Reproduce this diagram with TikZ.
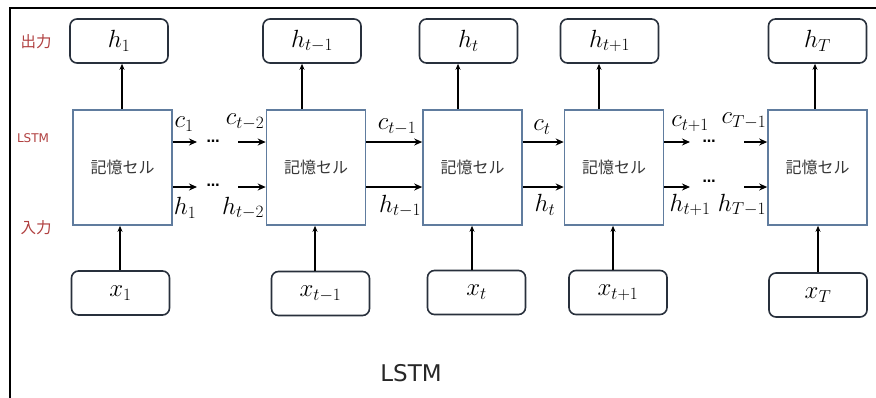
\documentclass[tikz,border=0pt]{standalone}
\usepackage{fontspec}
\usetikzlibrary{arrows.meta}
\newfontfamily\jp{Noto Sans CJK JP}
\newfontfamily\lat{DejaVu Sans}
\definecolor{cellblue}{RGB}{96,124,158}
\definecolor{boxline}{RGB}{40,48,60}
\definecolor{sidered}{RGB}{176,64,64}
\definecolor{textgray}{RGB}{55,55,55}
\begin{document}
\begin{tikzpicture}[x=1pt,y=-1pt,
  cell/.style={draw=cellblue, line width=1.6pt, minimum width=99pt, minimum height=115pt,
    inner sep=0pt, text=textgray, font=\jp\fontsize{16}{16}\selectfont},
  io/.style={draw=boxline, line width=1.6pt, rounded corners=7pt, minimum width=98pt,
    minimum height=44pt, inner sep=0pt, font=\fontsize{24}{24}\selectfont},
  lab/.style={inner sep=0pt, font=\fontsize{23}{23}\selectfont},
  dots/.style={inner sep=0pt, font=\lat\bfseries\fontsize{13}{13}\selectfont},
  flow/.style={line width=1.8pt, -{Stealth[length=8pt,width=7pt]}},
  feed/.style={line width=1.2pt, -{Stealth[length=6pt,width=5pt]}},
  side/.style={inner sep=0pt, text=sidered, font=\jp\fontsize{15.5}{15.5}\selectfont}
]
\useasboundingbox (0,0) rectangle (876,397);

% frame
\draw[line width=1.8pt] (10,410) -- (10,8) -- (890,8);

% memory cells
\node[cell] (c1) at (122.5,167.5) {記憶セル};
\node[cell] (c2) at (316,167.5) {記憶セル};
\node[cell] (c3) at (472.5,167.5) {記憶セル};
\node[cell] (c4) at (614,167.5) {記憶セル};
\node[cell] (c5) at (817.5,167.5) {記憶セル};

% outputs
\node[io] (o1) at (119,41) {$h_1$};
\node[io] (o2) at (312,41) {$h_{t-1}$};
\node[io] (o3) at (468.5,41) {$h_t$};
\node[io] (o4) at (609.5,41) {$h_{t+1}$};
\node[io] (o5) at (817.5,41) {$h_T$};

% inputs
\node[io] (i1) at (120.5,293) {$x_1$};
\node[io] (i2) at (320.5,293.5) {$x_{t-1}$};
\node[io] (i3) at (476.5,292.5) {$x_t$};
\node[io] (i4) at (618,292.5) {$x_{t+1}$};
\node[io] (i5) at (818,295) {$x_T$};

% vertical connectors
\foreach \c/\x in {1/122,2/302,3/458,4/599,5/815}
  \coordinate (vo\c) at (\x,0);
\foreach \c/\x in {1/120,2/315,3/472,4/613,5/818}
  \coordinate (vi\c) at (\x,0);
\foreach \c in {1,...,5}{
  \draw[feed] (c\c.north -| vo\c) -- (o\c.south -| vo\c);
  \draw[feed] (i\c.north -| vi\c) -- (c\c.south -| vi\c);
}

% rows of the cell state and hidden state
\coordinate (rc) at (0,142);
\coordinate (rh) at (0,187);

% cell 1 -> cell 2 (with ellipsis)
\coordinate (e1c) at (197,142);
\coordinate (e1h) at (197,187);
\coordinate (s2c) at (238,142);
\coordinate (s2h) at (238,187);
\node[dots] (d1c) at (213,141) {…};
\node[dots] (d1h) at (213,185) {…};
\draw[flow] (c1.east |- rc) -- (e1c);
\draw[flow] (c1.east |- rh) -- (e1h);
\draw[flow] (s2c) -- (c2.west |- rc);
\draw[flow] (s2h) -- (c2.west |- rh);

% cell 2 -> cell 3 -> cell 4
\draw[flow] (c2.east |- rc) -- (c3.west |- rc);
\draw[flow] (c2.east |- rh) -- (c3.west |- rh);
\draw[flow] (c3.east |- rc) -- (c4.west |- rc);
\draw[flow] (c3.east |- rh) -- (c4.west |- rh);

% cell 4 -> cell 5 (with ellipsis)
\coordinate (e4c) at (690,142);
\coordinate (e4h) at (690,187);
\coordinate (s5c) at (744,142);
\coordinate (s5h) at (744,187);
\node[dots] (d4c) at (709,141) {…};
\node[dots] (d4h) at (709,181) {…};
\draw[flow] (c4.east |- rc) -- (e4c);
\draw[flow] (c4.east |- rh) -- (e4h);
\draw[flow] (s5c) -- (c5.west |- rc);
\draw[flow] (s5h) -- (c5.west |- rh);

% state labels
\node[lab] (lc1)  at (184,124) {$c_1$};
\node[lab] (lct2) at (245,122) {$c_{t-2}$};
\node[lab] (lh1)  at (185,208) {$h_1$};
\node[lab] (lht2) at (243,208) {$h_{t-2}$};
\node[lab] (lct1) at (397,127) {$c_{t-1}$};
\node[lab] (lht1) at (400,206) {$h_{t-1}$};
\node[lab] (lct)  at (542,127) {$c_t$};
\node[lab] (lht)  at (545,205) {$h_t$};
\node[lab] (lcp1) at (690,124) {$c_{t+1}$};
\node[lab] (lcT1) at (744,121) {$c_{T-1}$};
\node[lab] (lhp1) at (690,205) {$h_{t+1}$};
\node[lab] (lhT1) at (742,205) {$h_{T-1}$};

% side annotations
\node[side] (sout) at (36,42) {出力};
\node[side, font=\lat\fontsize{12}{12}\selectfont] (slstm) at (33,138) {LSTM};
\node[side] (sin) at (36,228) {入力};

% caption
\node[inner sep=0pt, text=textgray!70!black, font=\lat\fontsize{23}{23}\selectfont] (cap) at (411,373) {LSTM};
\end{tikzpicture}
\end{document}
